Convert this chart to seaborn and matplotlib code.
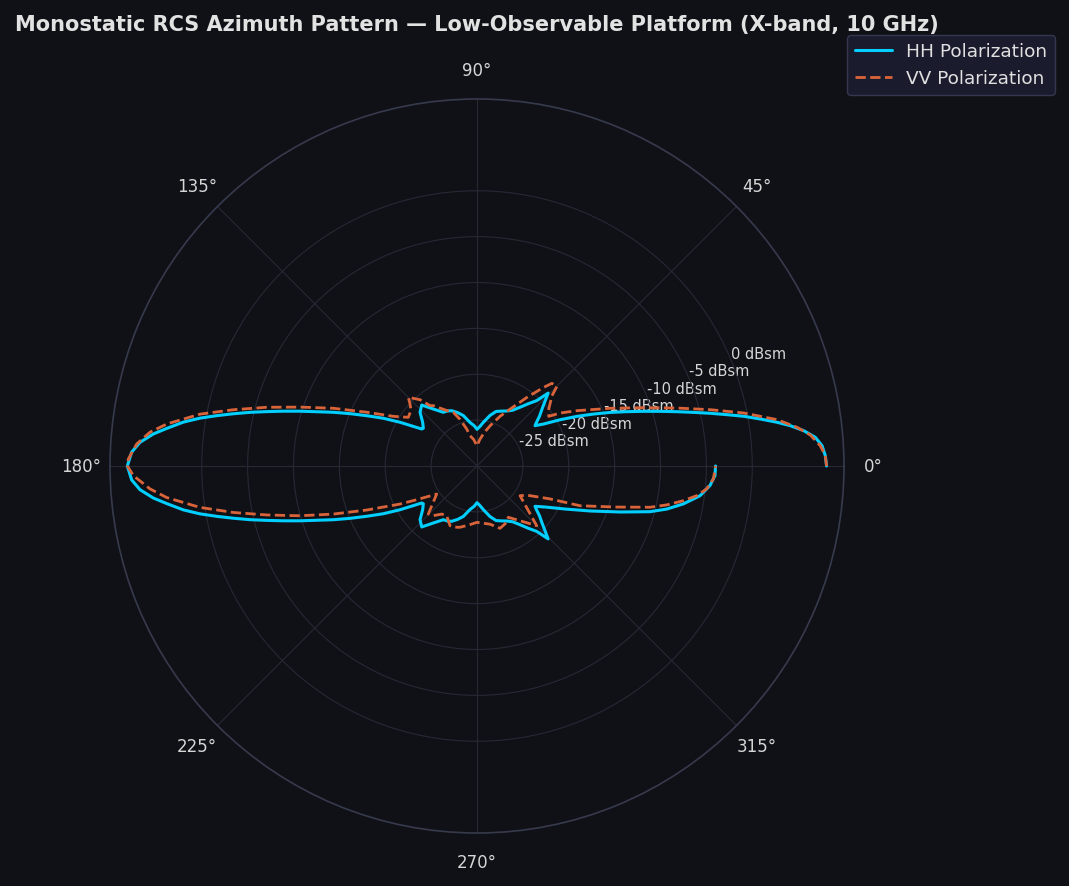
import numpy as np
import pandas as pd
import seaborn as sns
import matplotlib
matplotlib.use("Agg")
import matplotlib.pyplot as plt

# 读图得到的数据 (方位角 deg, RCS dBsm)
hh_deg = [0, 1.7, 3.37, 4.85, 6.17, 7.33, 8.29, 9.42, 10.56, 11.6, 12.73, 13.9, 15.2, 16.6, 18.16, 19.9,
          21.9, 24.0, 26.4, 29.07, 32.2, 34.8, 36.5, 38.5, 41.25, 43.5, 45.7, 47.6, 50.5, 53.8, 57.5, 61.8,
          66, 70.7, 75.5, 81.8, 86, 90, 94, 99.1, 105.2, 110, 114.6, 118, 122.1, 127.5, 132.2, 136.7, 141.2,
          144.9, 146.2, 149, 150.4, 153, 155.5, 157.6, 159.5, 161.3, 162.8, 164.2, 165.5, 166.7, 167.9,
          169.06, 170.2, 171.5, 173.1, 174.35, 175.98, 177.7, 180,
          182.3, 184.02, 185.65, 186.9, 188.5, 189.8, 190.94, 192.1, 193.3, 194.5, 195.8, 197.2, 198.7,
          200.5, 202.4, 204.5, 207, 209.6, 211, 213.8, 215.1, 218.8, 223.3, 227.8, 232.5, 237.9, 242, 245.4,
          250, 254.8, 260.9, 266, 270, 274, 278.2, 284.5, 289.3, 294, 298.2, 302.5, 306.2, 309.5, 312.4,
          314.3, 316.5, 318.75, 321.5, 323.5, 325.2, 328.9, 334, 338.3, 342.2, 345.2, 347.2, 349.6, 352.4,
          355.2, 357.7, 360]
hh_db = [8.1, 7.98, 7.67, 7.0, 5.82, 4.43, 3.05, 1.3, -0.43, -2.18, -3.93, -5.67, -7.42, -9.15, -10.88, -12.6,
         -14.34, -16.07, -17.83, -19.61, -21.41, -22.3, -21.9, -21.3, -20.57, -19.8, -18.9, -20.35, -21.2, -22.07, -22.8, -23.2,
         -23.45, -23.7, -24.3, -25.2, -25.7, -26.0, -25.6, -25.2, -24.3, -23.8, -23.37, -23.2, -23.09, -22.17, -21.03, -21.47, -22.4,
         -22.85, -22.75, -21.3, -20.35, -18.54, -16.78, -15.03, -13.28, -11.55, -9.8, -8.06, -6.33, -4.57, -2.84,
         -1.1, 0.64, 2.36, 4.07, 5.45, 6.82, 7.67, 8.11,
         7.67, 6.82, 5.45, 4.07, 2.36, 0.64, -1.1, -2.84, -4.57, -6.33, -8.06, -9.8, -11.55,
         -13.28, -15.03, -16.78, -18.54, -20.35, -21.3, -22.75, -22.85, -22.4, -21.47, -21.03, -22.17, -23.09, -23.2, -23.37,
         -23.8, -24.3, -25.2, -25.6, -26.0, -25.7, -25.2, -24.3, -23.7, -23.45, -23.2, -22.8, -22.07, -21.2, -20.35,
         -18.9, -19.8, -20.57, -21.3, -21.9, -22.3, -21.35, -19.3, -16.74, -13.6, -10.5, -8.8, -7.13, -5.48,
         -4.52, -4.04, -4.0]

vv_deg = [0, 1.7, 3.38, 5.31, 6.9, 8.78, 11.24, 13.57, 16.17, 19.28, 23.4, 28.95, 32.47, 34.7, 38.5, 43.15,
          44.9, 47.8, 49.7, 53.95, 59.7, 65, 69.1, 72, 78, 84, 90, 97, 103, 105.6, 110, 113.8, 118.7, 125.9,
          127.9, 130.7, 135, 137.2, 140, 144.7, 149.3, 154, 158.1, 161.6, 164.4, 167, 169.4, 172.3, 174.1,
          176.3, 178.85, 180,
          181.6, 184, 185.8, 188.5, 190.8, 193.1, 195.7, 198.5, 201.75, 206.3, 209.2, 214.8, 224.6, 228.7,
          233.7, 238.6, 245.7, 250, 254.5, 262, 270, 282.6, 290.3, 296, 301.4, 315, 325.4, 329.7, 335.7,
          338.9, 343.45, 346.6, 348.4, 350.45, 352.3, 354.3, 356.85, 360]
vv_db = [8.1, 7.98, 7.48, 6.49, 5.13, 3.09, -0.36, -3.84, -7.31, -10.75, -14.16, -17.54, -19.24, -20.49, -20.0, -18.8,
         -17.7, -17.84, -18.76, -20.74, -22.8, -24.0, -24.9, -25.4, -26.3, -27.1, -27.8, -27.1, -26.6, -25.8, -24.6, -23.6, -23.1, -21.88,
         -21.66, -20.47, -19.41, -20.05, -20.6, -20.82, -19.4, -16.63, -13.13, -9.66, -6.2, -2.74, 0.72, 4.13, 5.83,
         7.17, 8.01, 8.1,
         7.47, 5.73, 4.0, 0.53, -2.97, -6.46, -9.96, -13.49, -17.05, -20.64, -22.47, -24.65, -22.55, -22.8,
         -23.5, -23.66, -22.86, -22.9, -23.07, -23.5, -23.86, -23.5, -22.76, -23.0, -23.45, -20.8, -24.3, -23.7, -21.3,
         -17.97, -14.3, -10.6, -8.9, -7.2, -5.84, -4.85, -4.2, -4.0]

r_ticks = [-25, -20, -15, -10, -5, 0]
r_labels = [f"{t} dBsm" for t in r_ticks]
theta_ticks = [0, 45, 90, 135, 180, 225, 270, 315]

bg = "#101117"
sns.set_theme(style="dark")
plt.rcParams["font.family"] = ["DejaVu Sans"]

hh = pd.DataFrame({"theta": np.deg2rad(hh_deg), "rcs": hh_db})
vv = pd.DataFrame({"theta": np.deg2rad(vv_deg), "rcs": vv_db})

fig = plt.figure(figsize=(10.69, 8.87), dpi=100, facecolor=bg)
ax = fig.add_axes([110 / 1069, 53 / 887, 734 / 1069, 734 / 887], projection="polar")
ax.set_facecolor(bg)

sns.lineplot(data=hh, x="theta", y="rcs", ax=ax, color="#00cfff", lw=2.2,
             label="HH Polarization", sort=False, estimator=None)
sns.lineplot(data=vv, x="theta", y="rcs", ax=ax, color="#d9643a", lw=2.0,
             linestyle="--", label="VV Polarization", sort=False, estimator=None)

ax.set_ylim(-30, 10)
ax.set_yticks(r_ticks)
ax.set_yticklabels(r_labels, color="#d6d6d6", fontsize=10.5)
ax.set_rlabel_position(22.5)
ax.set_xticks(np.deg2rad(theta_ticks))
ax.set_xticklabels([f"{t}°" for t in theta_ticks], color="#d6d6d6", fontsize=12)
ax.tick_params(axis="x", pad=8)
ax.set_xlabel("")
ax.set_ylabel("")
ax.grid(True, color="#262935", lw=0.8)
ax.spines["polar"].set_color("#363a4c")
ax.spines["polar"].set_linewidth(1.2)

ax.get_legend().remove()
h, l = ax.get_legend_handles_labels()
leg = fig.legend(h, l, loc="upper right", bbox_to_anchor=(0.9955, 0.970), fontsize=13.3,
                 facecolor="#1a1c2e", edgecolor="#34374d", framealpha=1, labelcolor="#e0e0e0")

fig.text(0.014, 0.972, "Monostatic RCS Azimuth Pattern — Low-Observable Platform (X-band, 10 GHz)",
         ha="left", va="center", fontsize=15, fontweight="bold", color="#e2e2e2")

fig.savefig("out.png", dpi=100, facecolor=bg)
